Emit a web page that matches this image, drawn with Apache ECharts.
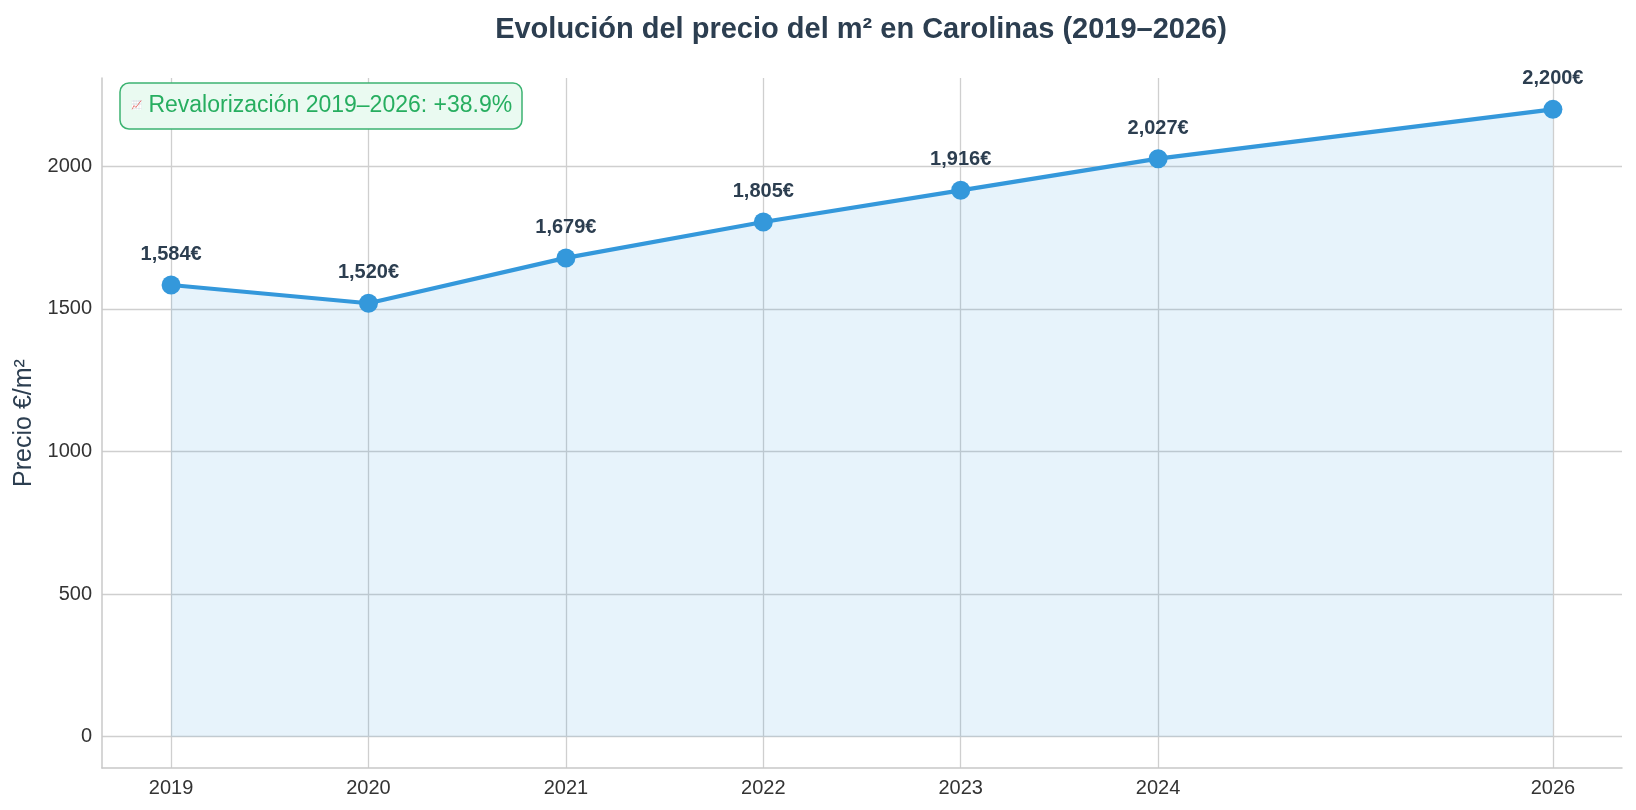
<!DOCTYPE html>
<html>
<head>
<meta charset="utf-8">
<script src="https://cdn.jsdelivr.net/npm/echarts@6/dist/echarts.min.js"></script>
<style>
  html, body { margin: 0; padding: 0; background: #ffffff; }
  #chart { width: 1636px; height: 810px; }
</style>
</head>
<body>
<div id="chart"></div>
<script>
const years = [2019, 2020, 2021, 2022, 2023, 2024, 2026];
const prices = [1584, 1520, 1679, 1805, 1916, 2027, 2200];
const yTicks = [0, 500, 1000, 1500, 2000];
const titleText = 'Evolución del precio del m² en Carolinas (2019–2026)';
const noteIcon = '📈';
const noteText = 'Revalorización 2019–2026: +38.9%';
const yName = 'Precio €/m²';

const FONT = '"Liberation Sans", Arial, sans-serif';
const chart = echarts.init(document.getElementById('chart'), null, { renderer: 'canvas' });

const seriesData = years.map((y, i) => [y, prices[i]]);

chart.setOption({
  backgroundColor: '#ffffff',
  animation: false,
  textStyle: { fontFamily: FONT },
  title: [
    {
      text: titleText,
      left: 856, textAlign: 'center',
      top: 10,
      textStyle: { fontSize: 29, fontWeight: 'bold', color: '#2c3e50', fontFamily: FONT }
    },
    {
      text: '{i|' + noteIcon + '} ' + noteText,
      left: 120, top: 83,
      padding: [10, 10, 10, 11],
      backgroundColor: '#eafaf1',
      borderColor: '#3cb371',
      borderWidth: 1.5,
      borderRadius: 9,
      textStyle: {
        fontSize: 23, fontWeight: 'normal', color: '#27ae60', fontFamily: FONT, lineHeight: 26,
        rich: { i: { fontSize: 9, lineHeight: 26, color: '#27ae60' } }
      }
    }
  ],
  grid: { left: 102, right: 14, top: 78, bottom: 42, containLabel: false },
  xAxis: {
    type: 'value',
    min: 2018.65, max: 2026.35,
    axisLine: { show: true, onZero: false, lineStyle: { color: '#c8c8c8', width: 1.5 } },
    axisTick: { show: false, customValues: years },
    axisLabel: { customValues: years, fontSize: 20, color: '#333333', margin: 10, fontFamily: FONT, formatter: v => String(v) },
    splitLine: { show: true, lineStyle: { color: '#cfcfcf', width: 1.3 } }
  },
  yAxis: {
    type: 'value',
    min: -110, max: 2310,
    name: yName,
    nameLocation: 'middle',
    nameGap: 64,
    nameTextStyle: { fontSize: 25, color: '#2c3e50', fontFamily: FONT },
    axisLine: { show: true, onZero: false, lineStyle: { color: '#c8c8c8', width: 1.5 } },
    axisTick: { show: false, customValues: yTicks },
    axisLabel: { customValues: yTicks, fontSize: 20, color: '#333333', margin: 10, fontFamily: FONT, formatter: v => String(v) },
    splitLine: { show: true, lineStyle: { color: '#cfcfcf', width: 1.3 } }
  },
  series: [
    {
      type: 'line',
      data: seriesData,
      z: 3,
      symbol: 'circle',
      symbolSize: 19,
      lineStyle: { color: '#3498db', width: 4.2 },
      itemStyle: { color: '#3498db' },
      areaStyle: { color: 'rgba(52,152,219,0.17)', origin: 0 },
      label: {
        show: true,
        position: 'top',
        distance: 11,
        fontSize: 20,
        fontWeight: 'bold',
        color: '#2c3e50',
        fontFamily: FONT,
        formatter: p => p.value[1].toLocaleString('en-US') + '€'
      }
    }
  ]
});
</script>
</body>
</html>
